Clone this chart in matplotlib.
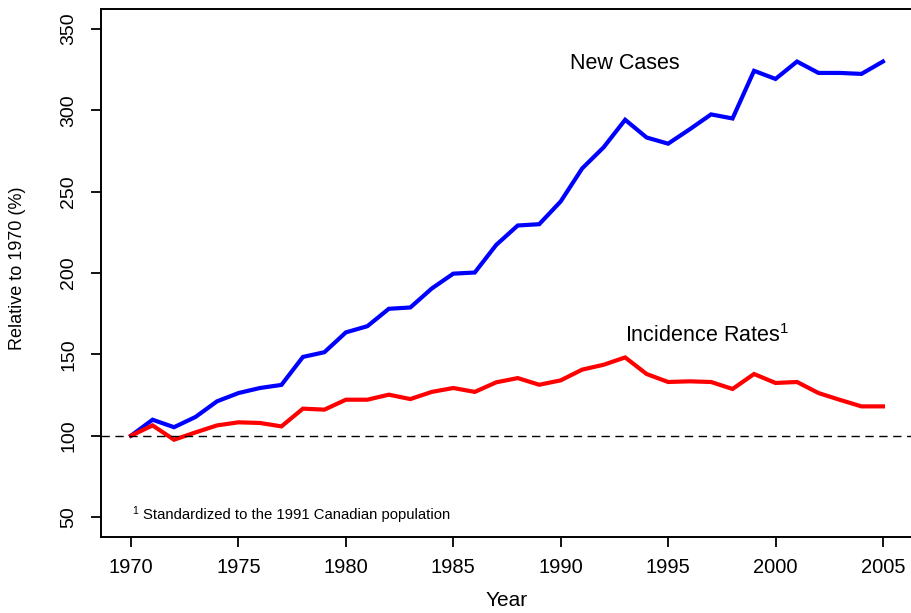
import matplotlib
matplotlib.use("Agg")
import matplotlib.pyplot as plt
from matplotlib import font_manager

years = list(range(1970, 2006))
new_cases = [100, 109.8, 105.2, 111.5, 121.1, 126.2, 129.3, 131.2, 148.4, 151.3,
             163.5, 167.3, 178.0, 178.8, 190.5, 199.6, 200.3, 217.3, 229.2, 230.0,
             244.0, 264.3, 277.3, 294.2, 283.3, 279.5, 288.3, 297.5, 295.0, 324.3,
             319.3, 330.0, 323.0, 323.0, 322.4, 330.0]
incidence = [100, 106.3, 97.5, 102.0, 106.3, 108.2, 107.8, 105.7, 116.6, 116.0,
             122.1, 122.1, 125.2, 122.5, 126.9, 129.3, 126.9, 132.8, 135.4, 131.3,
             134.0, 140.6, 143.6, 148.1, 137.9, 133.0, 133.4, 133.0, 128.7, 137.9,
             132.4, 133.0, 126.2, 122.0, 118.0, 118.0]
x_ticks = [1970, 1975, 1980, 1985, 1990, 1995, 2000, 2005]
y_ticks = [50, 100, 150, 200, 250, 300, 350]

names = {f.name for f in font_manager.fontManager.ttflist}
base = "Liberation Sans" if "Liberation Sans" in names else "DejaVu Sans"
narrow = "Liberation Sans Narrow" if "Liberation Sans Narrow" in names else base

plt.rcParams['font.family'] = [base, 'DejaVu Sans']
plt.rcParams['mathtext.fontset'] = 'custom'
plt.rcParams['mathtext.rm'] = base
plt.rcParams['mathtext.it'] = base + ':italic'
plt.rcParams['mathtext.bf'] = base + ':bold'

fig = plt.figure(figsize=(9.12, 6.13), dpi=100)
ax = fig.add_axes([101/912, 1 - 537/613, 812/912, 528/613])

ax.plot(years, new_cases, color='#0000ff', lw=3.0, solid_joinstyle='miter')
ax.plot(years, incidence, color='#ff0000', lw=3.0, solid_joinstyle='miter')
ax.axhline(100, color='black', lw=1.0, ls=(0, (6, 4)))

ax.set_xlim(1968.6, 2006.4)
ax.set_ylim(37.7, 362.3)
ax.set_xticks(x_ticks)
ax.set_yticks(y_ticks)
ax.set_xticklabels([str(t) for t in x_ticks], fontsize=14.5)
ax.set_yticklabels([str(t) for t in y_ticks], fontsize=14, rotation=90,
                   va='center', family=[narrow, 'DejaVu Sans'])
ax.tick_params(axis='both', direction='out', length=7, width=1.3, color='black')
ax.tick_params(axis='x', pad=8)
ax.tick_params(axis='y', pad=10)
for s in ax.spines.values():
    s.set_linewidth(1.4)
    s.set_color('black')

ax.set_xlabel('Year', fontsize=15, labelpad=10)
fig.text(18/912, 1 - 268/613, 'Relative to 1970 (%)', rotation=90, fontsize=13,
         ha='center', va='center', family=[narrow, 'DejaVu Sans'])

ax.text(1993.0, 329.0, 'New Cases', fontsize=15.5, ha='center', va='center')
ax.text(1996.8, 161.5, r'Incidence Rates$^{1}$', fontsize=15.5, ha='center', va='center')
ax.text(1970.05, 52.5, r'$^{1}$', fontsize=10.7, ha='left', va='center')
ax.text(1970.55, 51.2, 'Standardized to the 1991 Canadian population', fontsize=10.7,
        ha='left', va='center')

fig.savefig('out.png', dpi=100)
